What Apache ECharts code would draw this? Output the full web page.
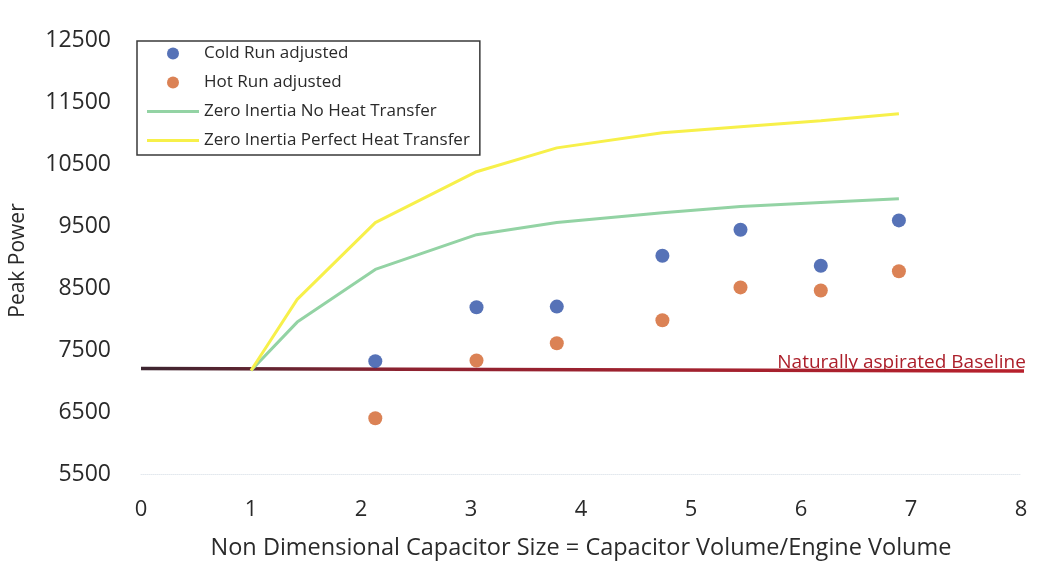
<!DOCTYPE html>
<html>
<head>
<meta charset="utf-8">
<script src="https://cdn.jsdelivr.net/npm/echarts@6/dist/echarts.min.js"></script>
<style>
  html, body { margin: 0; padding: 0; background: #ffffff; }
  #chart { width: 1053px; height: 565px; }
</style>
</head>
<body>
<div id="chart"></div>
<script>
// Measured runs: capacitor size vs. peak power
const capacitorSize = [2.13, 3.05, 3.78, 4.74, 5.45, 6.18, 6.89];
const coldRun = [7320, 8190, 8200, 9020, 9440, 8860, 9590];
const hotRun = [6400, 7330, 7610, 7980, 8510, 8460, 8770];

// Zero-inertia model curves
const modelSize = [1.0, 1.42, 2.13, 3.05, 3.78, 4.74, 5.45, 6.18, 6.89];
const noHeatTransfer = [7170, 7950, 8800, 9360, 9555, 9715, 9815, 9880, 9940];
const perfectHeatTransfer = [7170, 8316, 9555, 10376, 10760, 11003, 11100, 11197, 11309];

// Naturally aspirated reference level
const baselineX = [0, 8.08];
const baselineY = [7200, 7160];

const xTicks = [0, 1, 2, 3, 4, 5, 6, 7, 8];
const yLabels = [5500, 6500, 7500, 8500, 9500, 10500, 11500, 12500];

const pair = (xs, ys) => xs.map((x, i) => [x, ys[i]]);
const FONT = '"Open Sans", Lato, sans-serif';
const LINE_ICON = 'path://M0,0H52V3H0Z';

const chart = echarts.init(document.getElementById('chart'), null, { renderer: 'canvas' });

const baselineData = pair(baselineX, baselineY).map((p, i, arr) => {
  if (i !== arr.length - 1) return p;
  return {
    value: p,
    label: {
      show: true,
      formatter: 'Naturally aspirated Baseline',
      position: 'top',
      align: 'right',
      distance: 0,
      offset: [-4, 1],
      color: '#ac1f2a',
      fontSize: 19,
      fontFamily: FONT
    }
  };
});

chart.setOption({
  animation: false,
  backgroundColor: '#ffffff',
  textStyle: { fontFamily: FONT },
  grid: { left: 141, right: 32, top: 9, bottom: 90, containLabel: false },
  legend: {
    orient: 'vertical',
    left: 137,
    top: 41,
    backgroundColor: '#ffffff',
    borderColor: '#3a3a3a',
    borderWidth: 1.5,
    padding: [4, 10, 6, 10],
    itemGap: 12,
    itemWidth: 52,
    itemHeight: 12,
    textStyle: { color: '#2a2a2a', fontSize: 17, fontFamily: FONT },
    data: [
      { name: 'Cold Run adjusted', icon: 'circle' },
      { name: 'Hot Run adjusted', icon: 'circle' },
      { name: 'Zero Inertia No Heat Transfer', icon: LINE_ICON },
      { name: 'Zero Inertia Perfect Heat Transfer', icon: LINE_ICON }
    ]
  },
  xAxis: {
    type: 'value',
    min: 0,
    max: 8,
    interval: 1,
    name: 'Non Dimensional Capacitor Size = Capacitor Volume/Engine Volume',
    nameLocation: 'middle',
    nameGap: 62,
    nameTextStyle: { color: '#2a2a2a', fontSize: 23.5, fontFamily: FONT },
    axisLine: { show: true, lineStyle: { color: '#e3e8ee', type: 'dotted', width: 1 } },
    axisTick: { show: false },
    splitLine: { show: false },
    axisLabel: {
      color: '#2a2a2a',
      fontSize: 22,
      margin: 25,
      fontFamily: FONT,
      formatter: v => (xTicks.includes(v) ? String(v) : '')
    }
  },
  yAxis: {
    type: 'value',
    min: 5500,
    max: 13000,
    interval: 500,
    name: 'Peak Power',
    nameLocation: 'middle',
    nameGap: 112,
    nameTextStyle: { color: '#2a2a2a', fontSize: 21, fontFamily: FONT, padding: [0, 38, 0, 0] },
    axisLine: { show: false },
    axisTick: { show: false },
    splitLine: { show: false },
    axisLabel: {
      color: '#2a2a2a',
      fontSize: 23,
      margin: 30,
      fontFamily: FONT,
      formatter: v => (yLabels.includes(v) ? String(v) : '')
    }
  },
  series: [
    {
      name: 'Naturally aspirated Baseline',
      type: 'line',
      data: baselineData,
      symbol: 'circle',
      symbolSize: 0,
      showSymbol: true,
      clip: false,
      silent: true,
      z: 1,
      itemStyle: { color: '#b8202c' },
      lineStyle: {
        width: 3.5,
        color: new echarts.graphic.LinearGradient(0, 0, 1, 0, [
          { offset: 0, color: '#3b2530' },
          { offset: 0.3, color: '#8e2230' },
          { offset: 1, color: '#b8202c' }
        ])
      }
    },
    {
      name: 'Zero Inertia No Heat Transfer',
      type: 'line',
      data: pair(modelSize, noHeatTransfer),
      symbol: 'none',
      showSymbol: false,
      z: 2,
      lineStyle: { width: 3, color: '#93d3a4' },
      itemStyle: { color: '#93d3a4' }
    },
    {
      name: 'Zero Inertia Perfect Heat Transfer',
      type: 'line',
      data: pair(modelSize, perfectHeatTransfer),
      symbol: 'none',
      showSymbol: false,
      z: 2,
      lineStyle: { width: 3, color: '#f7f04a' },
      itemStyle: { color: '#f7f04a' }
    },
    {
      name: 'Cold Run adjusted',
      type: 'scatter',
      data: pair(capacitorSize, coldRun),
      symbol: 'circle',
      symbolSize: 14,
      z: 3,
      itemStyle: { color: '#2c4fa5' }
    },
    {
      name: 'Hot Run adjusted',
      type: 'scatter',
      data: pair(capacitorSize, hotRun),
      symbol: 'circle',
      symbolSize: 14,
      z: 3,
      itemStyle: { color: '#d2632a' }
    }
  ]
});
</script>
</body>
</html>
